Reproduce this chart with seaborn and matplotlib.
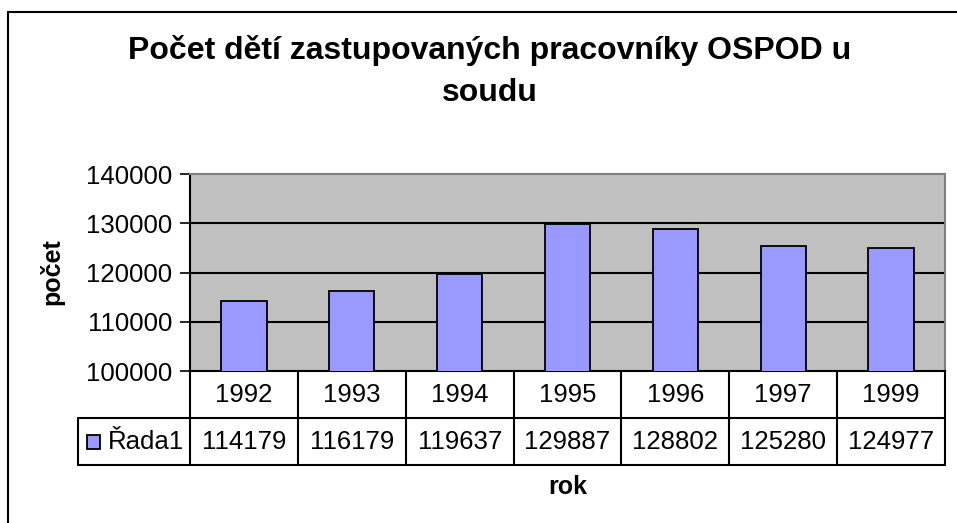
import numpy as np
import pandas as pd
import seaborn as sns
import matplotlib.pyplot as plt
from matplotlib.patches import Rectangle
from matplotlib.lines import Line2D
import matplotlib.transforms as mtransforms

years = ['1992', '1993', '1994', '1995', '1996', '1997', '1999']
counts = [114179, 116179, 119637, 129887, 128802, 125280, 124977]
series_name = 'Řada1'
y_ticks = [100000, 110000, 120000, 130000, 140000]

df = pd.DataFrame({'rok': years, 'počet': counts})

sns.set_theme(style="white")
plt.rcParams['font.family'] = ['Liberation Sans', 'DejaVu Sans']
plt.rcParams['text.color'] = 'black'
plt.rcParams['axes.labelcolor'] = 'black'
plt.rcParams['ytick.color'] = 'black'
plt.rcParams['xtick.color'] = 'black'

W, H = 957, 523
fig = plt.figure(figsize=(W / 100, H / 100), dpi=100)
fig.patch.set_facecolor('white')

# plot area in pixel coordinates
left, right, top, bottom = 190, 945, 174, 371
ax = fig.add_axes([left / W, 1 - bottom / H, (right - left) / W, (bottom - top) / H])
ax.set_facecolor('#C0C0C0')

sns.barplot(data=df, x='rok', y='počet', color='#9999FF', edgecolor='black',
            linewidth=1.3, width=0.42, saturation=1, ax=ax, zorder=3)

ax.set_ylim(100000, 140000)
ax.set_xlim(-0.5, len(years) - 0.5)
ax.set_yticks(y_ticks)
ax.set_yticklabels([str(t) for t in y_ticks], fontsize=18.5)
ax.set_xticks([])
ax.set_xlabel('')
ax.set_ylabel('')
ax.tick_params(axis='y', direction='out', length=7, width=1.2, color='black', pad=6, left=True)

for t in y_ticks[1:-1]:
    ax.axhline(t, color='black', lw=1.5, zorder=1)

for s in ['top', 'right']:
    ax.spines[s].set_color('#808080')
    ax.spines[s].set_linewidth(1.5)
for s in ['left', 'bottom']:
    ax.spines[s].set_color('black')
    ax.spines[s].set_linewidth(1.5)

# data table under the plot area
trans = mtransforms.blended_transform_factory(ax.transData, ax.transAxes)
row_h = 47 / (bottom - top)
col_px = (right - left) / len(years)
label_left = -0.5 - (left - 78) / col_px
n = len(years)

line_kw = dict(color='black', lw=1.5, transform=trans, clip_on=False)
for i in range(n + 1):
    ax.add_line(Line2D([i - 0.5, i - 0.5], [0, -2 * row_h], **line_kw))
ax.add_line(Line2D([label_left, label_left], [-row_h, -2 * row_h], **line_kw))
ax.add_line(Line2D([label_left, n - 0.5], [-row_h, -row_h], **line_kw))
ax.add_line(Line2D([label_left, n - 0.5], [-2 * row_h, -2 * row_h], **line_kw))

for i, (yr, c) in enumerate(zip(years, counts)):
    ax.text(i, -0.5 * row_h, yr, ha='center', va='center', fontsize=18.5, transform=trans)
    ax.text(i, -1.5 * row_h, str(c), ha='center', va='center', fontsize=18.5, transform=trans)

# legend key inside the row label cell
key_w = 13 / col_px
key_h = 14 / (bottom - top)
key_x = label_left + 9 / col_px
ax.add_patch(Rectangle((key_x, -1.5 * row_h - key_h / 2), key_w, key_h,
                       facecolor='#9999FF', edgecolor='black', lw=1.3,
                       transform=trans, clip_on=False))
ax.text(key_x + key_w + 8 / col_px, -1.5 * row_h, series_name, ha='left', va='center',
        fontsize=18.5, transform=trans)

# titles and axis names
fig.text(490 / W, 1 - 51 / H, 'Počet dětí zastupovaných pracovníky OSPOD u',
         ha='center', va='center', fontsize=23, fontweight='bold')
fig.text(490 / W, 1 - 93 / H, 'soudu', ha='center', va='center', fontsize=23, fontweight='bold')
fig.text(568 / W, 1 - 487 / H, 'rok', ha='center', va='center', fontsize=18, fontweight='bold')
fig.text(52 / W, 1 - 272 / H, 'počet', ha='center', va='center', rotation=90,
         fontsize=18, fontweight='bold')

# chart area border (left and top edges visible)
fig.add_artist(Line2D([8 / W, 8 / W], [0, 1 - 12 / H], color='black', lw=1.5, transform=fig.transFigure))
fig.add_artist(Line2D([8 / W, 1], [1 - 12 / H, 1 - 12 / H], color='black', lw=1.5, transform=fig.transFigure))

plt.savefig('out.png', dpi=100)
